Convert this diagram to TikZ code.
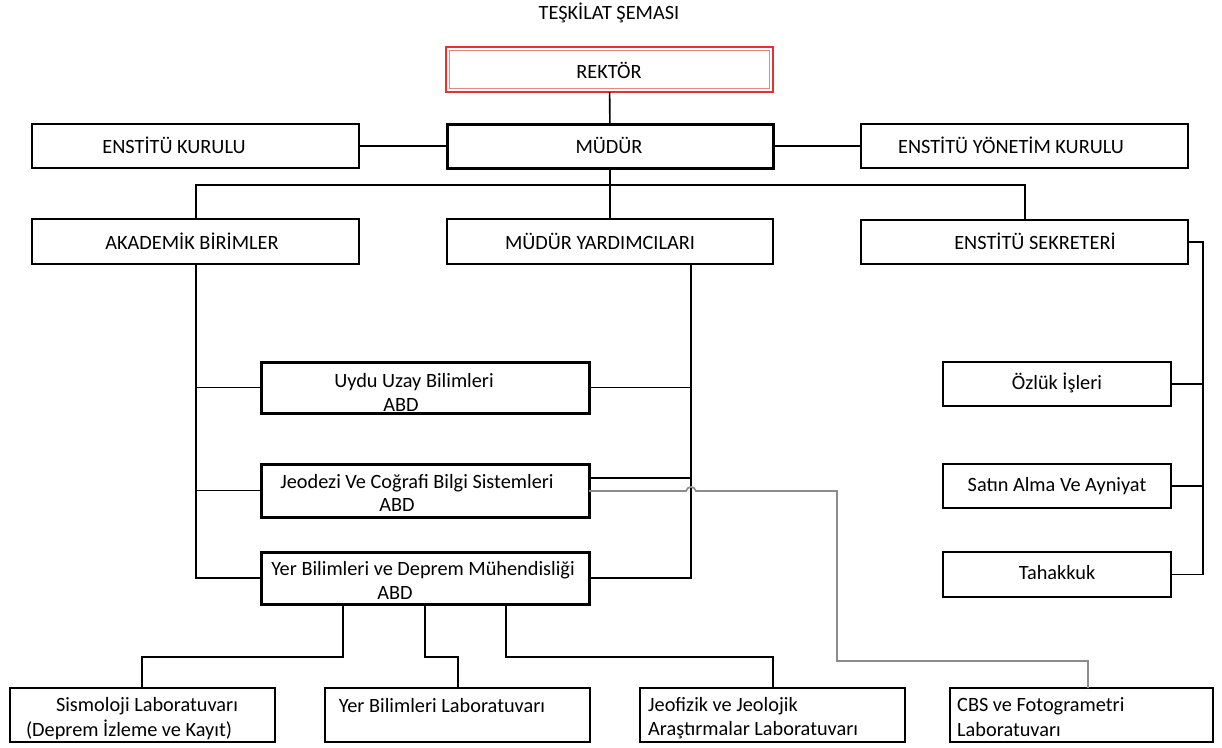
\documentclass[tikz,border=0pt]{standalone}
\usepackage{fontspec}
\setmainfont{Carlito}
\begin{document}
\begin{tikzpicture}[x=1pt,y=-1pt,
  box/.style={draw=black,rectangle,inner sep=0pt,outer sep=0pt,line width=1.4pt,fill=white},
  thickbox/.style={box,line width=3pt},
  medbox/.style={box,line width=1.8pt},
  redbox/.style={rectangle,inner sep=0pt,outer sep=0pt,draw={rgb,255:red,228;green,50;blue,50},line width=2.4pt},
  redinner/.style={draw={rgb,255:red,236;green,130;blue,130},line width=1.3pt},
  lbl/.style={inner sep=0pt,font=\fontsize{20.3}{23}\selectfont},
  conn/.style={line width=1.6pt,draw=black},
  gconn/.style={line width=1.7pt,draw={rgb,255:red,140;green,140;blue,140}}
]
\useasboundingbox (0,0) rectangle (1222,747);
\newcommand\mkbox[6]{\node[#6,minimum width={(#4-#2)*1pt},minimum height={(#5-#3)*1pt}] (#1) at ({(#2+#4)/2},{(#3+#5)/2}) {};}
% boxes
\mkbox{rek}{446}{47}{773}{92}{redbox}
\draw[redinner] (449.5,50.5) rectangle (769.5,88.5);
\mkbox{mud}{447}{124}{773}{168}{thickbox}
\mkbox{ek}{32}{124}{359}{168}{box}
\mkbox{eyk}{861}{124}{1188}{168}{box}
\mkbox{ak}{32}{219}{359}{264}{medbox}
\mkbox{my}{447}{219}{773}{264}{medbox}
\mkbox{es}{861}{220}{1188}{264}{medbox}
\mkbox{uydu}{261}{362}{589}{413}{thickbox}
\mkbox{jeo}{261}{464}{589}{517}{thickbox}
\mkbox{yer}{261}{552}{589}{604}{thickbox}
\mkbox{oz}{943}{362}{1171}{406}{box}
\mkbox{sa}{943}{464}{1171}{508}{box}
\mkbox{tah}{943}{552}{1171}{597}{box}
\mkbox{sis}{10}{688}{275}{742}{box}
\mkbox{ybl}{325}{688}{590}{742}{box}
\mkbox{jf}{640}{688}{905}{742}{box}
\mkbox{cbs}{950}{688}{1213}{742}{box}
% helper coordinates
\coordinate (bus) at (609,185);
\coordinate (aks) at (196,264);
\coordinate (mys) at (691,264);
\coordinate (jeoA) at (589,478);
\coordinate (jeoG) at (589,491);
\coordinate (esr) at (1203,242);
\coordinate (d1) at (343,657);
\coordinate (d2) at (425,657);
\coordinate (d3) at (506,657);
\coordinate (s1) at (142,657);
\coordinate (s2) at (458,657);
\coordinate (s3) at (773,657);
\coordinate (g1) at (837,661);
\coordinate (g2) at (1088,661);
% connectors
\draw[conn] (rek) -- (mud);
\draw[conn] (ek.east) -- (ek.east -| mud.west);
\draw[conn] (mud.east) -- (mud.east -| eyk.west);
\draw[conn] (mud.south) -- (my.north);
\draw[conn] (ak.north -| aks) |- (bus) -| (es.north -| 1025,0);
\draw[conn] (aks) |- (yer.west);
\draw[conn] (aks |- uydu.west) -- (uydu.west);
\draw[conn] (aks |- jeo.west) -- (jeo.west);
\draw[conn] (mys) |- (yer.east);
\draw[conn] (uydu.east) -- (uydu.east -| mys);
\draw[conn] (jeoA) -- (jeoA -| mys);
\draw[gconn] (jeoG) -- (686,491) .. controls (688,485.5) and (694,485.5) .. (696,491) -- (837,491) -- (g1) -- (g2) -- (g2 |- cbs.north);
\draw[conn] (es.east) -| (esr |- tah.east) -- (tah.east);
\draw[conn] (oz.east) -- (oz.east -| esr);
\draw[conn] (sa.east) -- (sa.east -| esr);
\draw[conn] (d1 |- yer.south) -- (d1) -- (s1) -- (s1 |- sis.north);
\draw[conn] (d2 |- yer.south) -- (d2) -- (s2) -- (s2 |- ybl.north);
\draw[conn] (d3 |- yer.south) -- (d3) -- (s3) -- (s3 |- jf.north);
% labels
\node[lbl] (t0) at (609,13) {TEŞKİLAT ŞEMASI};
\node[lbl] (t1) at (609,70) {REKTÖR};
\node[lbl] (t2) at (609,145) {MÜDÜR};
\node[lbl] (t3) at (174,145) {ENSTİTÜ KURULU};
\node[lbl] (t4) at (1011,145) {ENSTİTÜ YÖNETİM KURULU};
\node[lbl] (t5) at (192,241) {AKADEMİK BİRİMLER};
\node[lbl] (t6) at (600,241) {MÜDÜR YARDIMCILARI};
\node[lbl] (t7) at (1035,241) {ENSTİTÜ SEKRETERİ};
\node[lbl] (t8) at (414,382) {Uydu Uzay Bilimleri};
\node[lbl] (t9) at (401,405) {ABD};
\node[lbl] (t10) at (417,483) {Jeodezi Ve Coğrafi Bilgi Sistemleri};
\node[lbl] (t11) at (397,505) {ABD};
\node[lbl] (t12) at (423,570) {Yer Bilimleri ve Deprem Mühendisliği};
\node[lbl] (t13) at (395,593) {ABD};
\node[lbl] (t14) at (1057,383) {Özlük İşleri};
\node[lbl] (t15) at (1057,486) {Satın Alma Ve Ayniyat};
\node[lbl] (t16) at (1057,573) {Tahakkuk};
\node[lbl] (t17) at (147,706) {Sismoloji Laboratuvarı};
\node[lbl] (t18) at (129,730) {(Deprem İzleme ve Kayıt)};
\node[lbl] (t19) at (442,706) {Yer Bilimleri Laboratuvarı};
\node[lbl,anchor=west] (t20) at (648,706) {Jeofizik ve Jeolojik};
\node[lbl,anchor=west] (t21) at (648,730) {Araştırmalar Laboratuvarı};
\node[lbl,anchor=west] (t22) at (957,706) {CBS ve Fotogrametri};
\node[lbl,anchor=west] (t23) at (957,730) {Laboratuvarı};
\end{tikzpicture}
\end{document}
